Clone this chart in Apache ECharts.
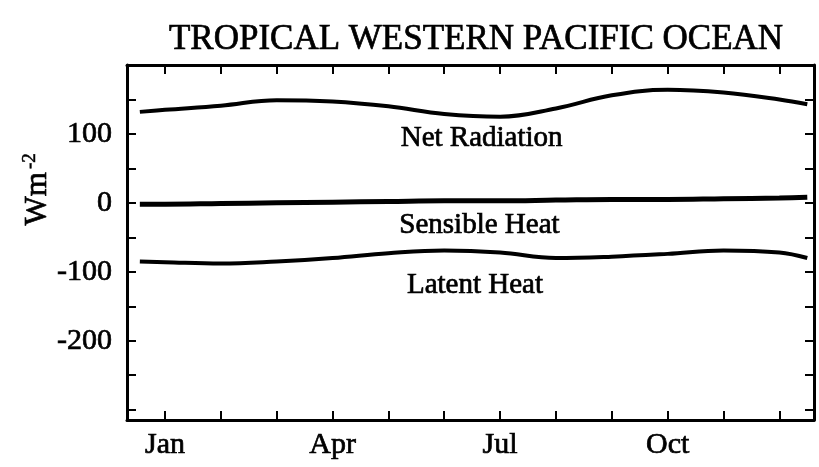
<!DOCTYPE html>
<html>
<head>
<meta charset="utf-8">
<script src="https://cdn.jsdelivr.net/npm/echarts@6/dist/echarts.min.js"></script>
<style>html,body{margin:0;padding:0;background:#fff}#c{width:819px;height:467px}</style>
</head>
<body>
<div id="c"></div>
<script>
// ---- data ----
const titleText = 'TROPICAL WESTERN PACIFIC OCEAN';
const yAxisUnit = 'Wm';
const yAxisUnitExp = '-2';
const months = [0.55, 1, 2, 3, 4, 5, 6, 7, 8, 9, 10, 11, 12, 12.5];
const netRadiation = [132, 135, 141, 149, 147, 140, 129, 125, 137, 156, 164, 160, 150, 143];
const sensibleHeat = [-2, -2, -1, 0, 1, 2, 3, 3, 4, 5, 5, 6, 7, 8];
const latentHeat = [-85, -86, -88, -85, -80, -73, -69, -72, -80, -78, -74, -69, -72, -80];
const monthTicks = [1, 2, 3, 4, 5, 6, 7, 8, 9, 10, 11, 12];
const monthLabelValues = [1, 4, 7, 10];
const monthLabelNames = {1: 'Jan', 4: 'Apr', 7: 'Jul', 10: 'Oct'};
const yTicks = [-300, -250, -200, -150, -100, -50, 0, 50, 100, 150, 200];
const yLabelValues = [-200, -100, 0, 100];
const annotationNames = ['Net Radiation', 'Sensible Heat', 'Latent Heat'];
const annotationX = [6.67, 6.63, 6.55];
const annotationY = [93, -32, -119];

const font = 'Liberation Serif, Times New Roman, serif';
const pair = (xs, ys) => xs.map((x, i) => [x, ys[i]]);
const heavy = {textBorderColor: '#000', textBorderWidth: 0.7};

const chart = echarts.init(document.getElementById('c'), null, {renderer: 'canvas'});
const axisLineStyle = {color: '#000', width: 3};
const tickStyle = {color: '#000', width: 2};
const baseX = {
  type: 'value', min: 0.32, max: 12.62,
  axisLine: {show: true, lineStyle: axisLineStyle, onZero: false},
  splitLine: {show: false}
};
const baseY = {
  type: 'value', min: -315, max: 200,
  axisLine: {show: true, lineStyle: axisLineStyle, onZero: false},
  splitLine: {show: false}
};
chart.setOption({
  animation: false,
  backgroundColor: '#fff',
  title: {
    text: titleText, left: 471, top: 17, textAlign: 'center',
    textStyle: Object.assign({fontFamily: font, fontSize: 35, fontWeight: 'normal', color: '#000'}, heavy)
  },
  graphic: [{
    type: 'text', left: 20, top: 153, rotation: Math.PI / 2,
    style: {
      text: '{m|' + yAxisUnit + '}{s|' + yAxisUnitExp + '}',
      rich: {
        m: {fontFamily: font, fontSize: 31, fill: '#000', stroke: '#000', lineWidth: 0.7},
        s: {fontFamily: font, fontSize: 19, fill: '#000', stroke: '#000', lineWidth: 0.5,
          verticalAlign: 'top', padding: [0, 0, 16, 3]}
      }
    }
  }],
  grid: {left: 127, right: 5, top: 65, bottom: 47},
  xAxis: [
    Object.assign({}, baseX, {
      position: 'bottom',
      axisTick: {show: true, inside: true, length: 9, lineStyle: tickStyle, customValues: monthTicks},
      axisLabel: Object.assign({show: true, customValues: monthLabelValues, margin: 10,
        formatter: v => monthLabelNames[v] || '',
        fontFamily: font, fontSize: 30, color: '#000'}, heavy)
    }),
    Object.assign({}, baseX, {
      position: 'top',
      axisTick: {show: true, inside: true, length: 9, lineStyle: tickStyle, customValues: monthTicks},
      axisLabel: {show: false}
    })
  ],
  yAxis: [
    Object.assign({}, baseY, {
      position: 'left',
      axisTick: {show: true, inside: true, length: 9, lineStyle: tickStyle, customValues: yTicks},
      axisLabel: Object.assign({show: true, customValues: yLabelValues, margin: 15,
        fontFamily: font, fontSize: 30, color: '#000'}, heavy)
    }),
    Object.assign({}, baseY, {
      position: 'right',
      axisTick: {show: true, inside: true, length: 9, lineStyle: tickStyle, customValues: yTicks},
      axisLabel: {show: false}
    })
  ],
  series: [
    {name: 'Net Radiation', type: 'line', smooth: 0.4, showSymbol: false,
      lineStyle: {color: '#000', width: 4}, data: pair(months, netRadiation)},
    {name: 'Sensible Heat', type: 'line', smooth: 0.4, showSymbol: false,
      lineStyle: {color: '#000', width: 5}, data: pair(months, sensibleHeat)},
    {name: 'Latent Heat', type: 'line', smooth: 0.4, showSymbol: false,
      lineStyle: {color: '#000', width: 4}, data: pair(months, latentHeat)},
    {name: 'labels', type: 'scatter', symbolSize: 0, silent: true,
      itemStyle: {opacity: 1},
      data: annotationNames.map((n, i) => ({name: n, value: [annotationX[i], annotationY[i]]})),
      label: Object.assign({show: true, position: 'inside', formatter: p => p.name, opacity: 1,
        fontFamily: font, fontSize: 29, color: '#000'}, heavy)}
  ]
});
</script>
</body>
</html>
